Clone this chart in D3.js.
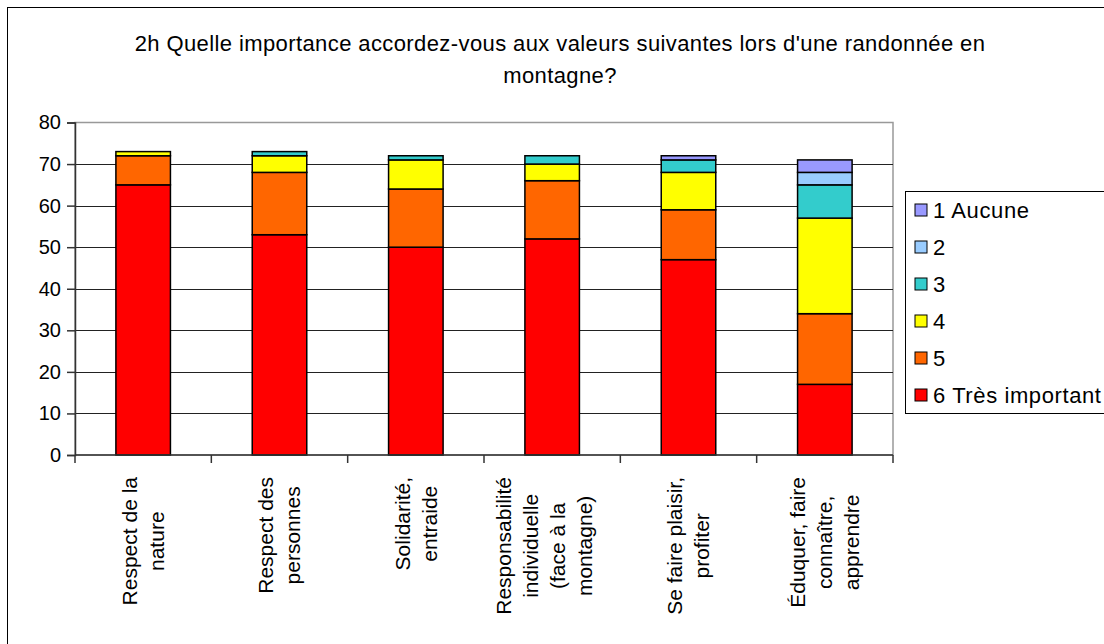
<!DOCTYPE html>
<html>
<head>
<meta charset="utf-8">
<script src="https://cdn.jsdelivr.net/npm/d3@7"></script>
<style>
  body { margin: 0; background: #fff; }
  svg { display: block; font-family: "Liberation Sans", Arial, sans-serif; }
</style>
</head>
<body>
<div id="chart"></div>
<script>
// data
var categories = [
    ["Respect de la", "nature"],
    ["Respect des", "personnes"],
    ["Solidarité,", "entraide"],
    ["Responsabilité", "individuelle", "(face à la", "montagne)"],
    ["Se faire plaisir,", "profiter"],
    ["Éduquer, faire", "connaître,", "apprendre"]
];
var seriesNames = ["6 Très important", "5", "4", "3", "2", "1 Aucune"];
var seriesColors = ["#FF0000", "#FF6600", "#FFFF00", "#33CCCC", "#99CCFF", "#9999FF"];
var s6 = [65, 53, 50, 52, 47, 17];
var s5 = [7, 15, 14, 14, 12, 17];
var s4 = [1, 4, 7, 4, 9, 23];
var s3 = [0, 1, 1, 2, 3, 8];
var s2 = [0, 0, 0, 0, 0, 3];
var s1 = [0, 0, 0, 0, 1, 3];
var yTicks = [0, 10, 20, 30, 40, 50, 60, 70, 80];
var title = ["2h Quelle importance accordez-vous aux valeurs suivantes lors d'une randonnée en", "montagne?"];

var width = 1104, height = 644;
var plot = { left: 75, right: 893, top: 122.5, bottom: 455 };

var svg = d3.select("#chart").append("svg")
    .attr("width", width)
    .attr("height", height);

// outer chart frame (only top / left visible in the picture)
svg.append("rect")
    .attr("x", 7.5).attr("y", 7.5)
    .attr("width", width + 20).attr("height", height + 20)
    .attr("fill", "#fff")
    .attr("stroke", "#000");

// title
svg.append("text")
    .attr("x", 560)
    .attr("y", 51)
    .attr("text-anchor", "middle")
    .style("font-size", "22px")
    .style("letter-spacing", "0.4px")
    .selectAll("tspan")
    .data(title)
    .enter().append("tspan")
    .attr("x", 560)
    .attr("dy", (d, i) => i === 0 ? 0 : 32)
    .text(d => d);

var idx = d3.range(categories.length);
var x = d3.scaleBand()
    .domain(idx)
    .range([plot.left, plot.right])
    .paddingInner(0.6)
    .paddingOuter(0.3);

var y = d3.scaleLinear()
    .domain([0, 80])
    .range([plot.bottom, plot.top]);

// plot area frame
svg.append("rect")
    .attr("x", plot.left).attr("y", plot.top)
    .attr("width", plot.right - plot.left)
    .attr("height", plot.bottom - plot.top)
    .attr("fill", "#fff")
    .attr("stroke", "#999")
    .attr("stroke-width", 1.5);

// gridlines
svg.append("g")
    .selectAll("line")
    .data(yTicks.filter(d => d > 0 && d < 80))
    .enter().append("line")
    .attr("x1", plot.left).attr("x2", plot.right)
    .attr("y1", d => Math.round(y(d)) + 0.5)
    .attr("y2", d => Math.round(y(d)) + 0.5)
    .attr("stroke", "#222");

// stacked bars
var rows = idx.map(function(i) {
    var r = { i: i };
    [s6, s5, s4, s3, s2, s1].forEach(function(s, k) { r[k] = s[i]; });
    return r;
});
var stack = d3.stack().keys(d3.range(seriesNames.length));
var layers = stack(rows);

svg.append("g")
    .selectAll("g")
    .data(layers)
    .enter().append("g")
    .attr("fill", (d, k) => seriesColors[k])
    .selectAll("rect")
    .data(d => d.filter(p => p[1] > p[0]))
    .enter().append("rect")
    .attr("x", d => x(d.data.i))
    .attr("width", x.bandwidth())
    .attr("y", d => y(d[1]))
    .attr("height", d => y(d[0]) - y(d[1]))
    .attr("stroke", "#000")
    .attr("stroke-width", 1.5);

// y axis
var yAxis = svg.append("g")
    .attr("transform", `translate(${plot.left},0)`)
    .call(d3.axisLeft(y).tickValues(yTicks).tickSize(8).tickPadding(6));
yAxis.selectAll("text").style("font-size", "20px").attr("fill", "#000");
yAxis.selectAll("line, path").attr("stroke", "#333").attr("stroke-width", 1.5);

// x axis line + ticks at category boundaries
var edges = d3.range(categories.length + 1).map(i => plot.left + i * (plot.right - plot.left) / categories.length);
svg.append("line")
    .attr("x1", plot.left).attr("x2", plot.right)
    .attr("y1", plot.bottom).attr("y2", plot.bottom)
    .attr("stroke", "#333").attr("stroke-width", 1.5);
svg.append("g")
    .selectAll("line")
    .data(edges)
    .enter().append("line")
    .attr("x1", d => d).attr("x2", d => d)
    .attr("y1", plot.bottom).attr("y2", plot.bottom + 8)
    .attr("stroke", "#333").attr("stroke-width", 1.5);

// rotated category labels
var lineH = 27;
var labels = svg.append("g")
    .selectAll("g")
    .data(categories)
    .enter().append("g")
    .attr("transform", (d, i) => `translate(${x(i) + x.bandwidth() / 2 - (d.length > 3 ? 8 : 0)},477) rotate(-90)`);

labels.each(function(lines) {
    var g = d3.select(this);
    var texts = g.selectAll("text")
        .data(lines)
        .enter().append("text")
        .style("font-size", "21px")
        .attr("text-anchor", "middle")
        .attr("dy", "0.35em")
        .attr("y", (d, i) => (i - (lines.length - 1) / 2) * lineH)
        .text(d => d);
    var maxLen = d3.max(texts.nodes(), n => n.getComputedTextLength());
    texts.attr("x", -maxLen / 2);
});

// legend
var legend = svg.append("g");
legend.append("rect")
    .attr("x", 905.5).attr("y", 191.5)
    .attr("width", 230).attr("height", 222)
    .attr("fill", "#fff")
    .attr("stroke", "#000");

var order = d3.range(seriesNames.length).reverse();
var items = legend.selectAll("g.item")
    .data(order)
    .enter().append("g")
    .attr("class", "item")
    .attr("transform", (k, j) => `translate(915,${210 + j * 37})`);

items.append("rect")
    .attr("x", 0).attr("y", -6)
    .attr("width", 12).attr("height", 12)
    .attr("fill", k => seriesColors[k])
    .attr("stroke", "#000");

items.append("text")
    .attr("x", 18)
    .attr("dy", "0.35em")
    .style("font-size", "22px")
    .style("letter-spacing", "0.6px")
    .text(k => seriesNames[k]);
</script>
</body>
</html>
